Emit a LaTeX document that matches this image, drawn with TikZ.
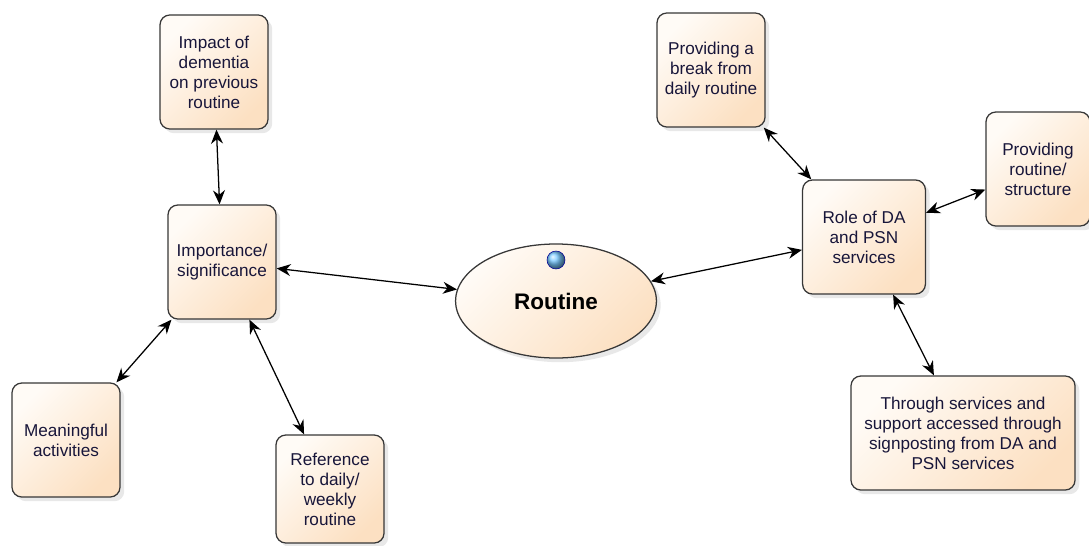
\documentclass[tikz,border=0pt]{standalone}
\usepackage{fontspec}
\setmainfont{Liberation Sans}
\usepackage{tikz}
\usetikzlibrary{
  arrows.meta,
  shapes.geometric,
  shadows
}
\definecolor{peachlight}{RGB}{255,251,246}
\definecolor{peachdark}{RGB}{252,224,194}
\definecolor{inktext}{RGB}{24,22,58}
\definecolor{boxline}{RGB}{55,55,55}
\definecolor{ballblue}{RGB}{120,200,255}
\tikzset{
  topicbox/.style={draw=boxline, line width=0.9pt, rounded corners=7pt,
    left color=peachlight, right color=peachdark, shading angle=45,
    drop shadow={opacity=0.18, shadow xshift=3pt, shadow yshift=-3pt},
    minimum width=2.7cm, minimum height=2.85cm,
    align=center, text=inktext, font=\fontsize{12.2}{14.2}\selectfont},
  corebox/.style={draw=boxline, line width=0.9pt, ellipse,
    left color=peachlight, right color=peachdark, shading angle=45,
    drop shadow={opacity=0.18, shadow xshift=3pt, shadow yshift=-3pt},
    minimum width=5.02cm, minimum height=2.85cm,
    text=black, font=\fontsize{16}{19}\selectfont\bfseries},
  link/.style={{Stealth[length=10pt,width=8.5pt]}-{Stealth[length=10pt,width=8.5pt]},
    line width=0.9pt, black},
}

\begin{document}
\begin{tikzpicture}[x=0.025cm, y=-0.025cm]
  \useasboundingbox (0,0) rectangle (1089,545);

  % centre
  \node[corebox] (routine) at (556,301) {\raisebox{-6pt}{Routine}};
  \shade[ball color=ballblue, draw=blue!60!black, line width=0.4pt]
    (556,260) circle (9);

  % left hand side
  \node[topicbox] (impact) at (214,72)
    {Impact of\\dementia\\on previous\\routine};
  \node[topicbox] (importance) at (222,262) {Importance/\\significance};
  \node[topicbox] (meaningful) at (66,440) {Meaningful\\activities};
  \node[topicbox, minimum height=2.7cm] (reference) at (330,489)
    {Reference\\to daily/\\weekly\\routine};

  % right hand side
  \node[topicbox] (brk) at (711,70) {Providing a\\break from\\daily routine};
  \node[topicbox, minimum width=3.07cm] (role) at (864,237)
    {Role of DA\\and PSN\\services};
  \node[topicbox, minimum width=2.6cm] (structure) at (1038,169)
    {Providing\\routine/\\structure};
  \node[topicbox, minimum width=5.6cm] (through) at (963,433)
    {Through services and\\support accessed through\\signposting from DA and\\PSN services};

  % links
  \draw[link] (impact) -- (importance);
  \draw[link] (importance) -- (routine);
  \draw[link] (importance) -- (meaningful);
  \draw[link] (importance) -- (reference);
  \draw[link] (routine) -- (role);
  \draw[link] (brk) -- (role);
  \draw[link] (role) -- (structure);
  \draw[link] (role) -- (through);
\end{tikzpicture}
\end{document}
